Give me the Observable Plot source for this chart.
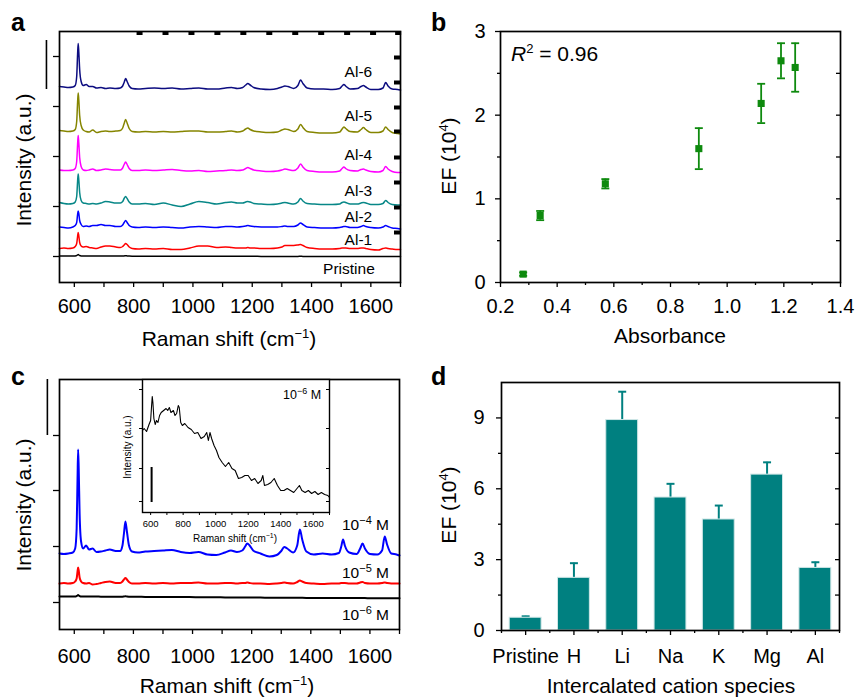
<!DOCTYPE html>
<html><head><meta charset="utf-8">
<script src="https://cdn.jsdelivr.net/npm/d3@7"></script>
<script src="https://cdn.jsdelivr.net/npm/@observablehq/plot@0.6"></script>
<style>
html,body{margin:0;padding:0;background:#fff;}
#fig{position:relative;width:857px;height:697px;overflow:hidden;font-family:"Liberation Sans",Arial,sans-serif;}
</style></head><body><div id="fig"></div>
<script>
// ---------- DATA ----------
// Panel a: Raman shift grid (cm-1) shared by spectra of panels a and c
const shiftGrid = [550,565,580,595,603,608,611,613,615,618,623,630,640,650,662,675,690,705,720,740,755,763,768,773,778,785,795,815,840,870,900,930,960,990,1020,1050,1080,1110,1130,1150,1168,1178,1185,1193,1205,1230,1260,1285,1300,1310,1320,1340,1354,1363,1371,1385,1410,1440,1470,1495,1503,1509,1515,1530,1555,1567,1575,1583,1600,1625,1641,1650,1658,1672,1690,1700];
const seriesA = ["Al-6","Al-5","Al-4","Al-3","Al-2","Al-1","Pristine"];
const colorsA = ["#0c0c80","#858500","#ff00ff","#078787","#0000ff","#ff0000","#000000"];
const offsetsA = [193,150,111,78,55,34,26];
const al6 = [3,2.5,2,2.5,4,13,35,46,38,20, 8,4,5,3,3,1.5,2,1,1.5,1, 1.5,3.5,7,11,8,3.5,1,0.5,1,1.5, 1,1.5,0.5,1,1.5,0.5,0.5,1.5,2,1, 2,4.5,6,4.5,2,0.5,0,1,2.5,3.5, 3,1,4,9.5,6,1.5,0.5,0.5,0,1, 3.5,5,3.5,0.5,1,3,4,2.5,0,0, 1.5,7,3.5,0.5,0,-0.5];
const al5 = [2,1.5,1,1.5,3,11,30,39.5,33,17, 7,2.5,1,0.5,2.5,0,1,1.5,1,1.5, 2,4.5,9,13,9.5,4,1,0.5,1,0.5, 1,0.5,1,1.5,1.5,0.5,0.5,1,1.5,0.5, 1.5,3.5,4.5,3,1.5,0.5,0,0.5,2.5,3.5, 3,1,3.5,8,5,1,0,-0.5,-0.5,0.5, 3.5,5.5,4,1,0.5,3,5,3,0,0, 1.5,5.5,3,0,-1,-1.5];
const al4 = [1.5,1,1,1.5,3,10,27,36,29,14, 5,1.5,1,1.5,2.5,1,1.5,2.5,2,1.5, 1.5,3.5,7,9.5,7,3,1,1,1.5,1, 1.5,2,1,0.5,1,0,0.5,1,1.5,1, 1.5,3,4,3,1.5,0.5,0,0.5,1.5,2.5, 2,1,3.5,7.5,4.5,1,0,-0.5,-0.5,0.5, 3,4.5,3,1,0.5,2,2.5,1.5,0,-0.5, 1,5,2.5,0,-1,-1];
const al3 = [2,1,0.5,1,2.5,8,23,30.5,25,12, 4,1.5,1,0.5,1,0.5,1.5,3,2.5,1.5, 1.5,3,6,8,6,2.5,0.5,0.5,1,0, 1.5,-0.5,-2,0.5,3,2,0.5,2,2.5,1.5, 1.5,2.5,3,2.5,1,0.5,0,0.5,1.5,2, 1.5,0.5,2.5,6,3.5,1,0.5,0,0,0.5, 2,2.5,2,0.5,0.5,1.5,2,1.5,0,0, 1,4,2,0,-0.5,-0.5];
const al2 = [0.5,0,-0.5,0.5,2,5,13,16.5,14,7, 3,1,1.5,1,2,2,3,2,2,1, 1,2.5,5,7,5,2,0.5,0,0.5,0, 0.5,0,-0.5,0.5,1,0.5,0,1,1,0.5, 1,1.5,2,1.5,1,0.5,0.5,0.5,1,1.5, 1,1,2.5,4.5,3,0.5,0,-0.5,-0.5,0, 0.5,1,1,0,0,1,2,1,0,-0.5, 0.5,2,1,-0.5,-1,-1.5];
const al1 = [0,0.5,0,0.5,2,5,12,16,13,6, 2.5,1.5,2,1,0.5,0,1.5,2.5,2.5,1.5, 1,2,3.5,5,4,1.5,0,-0.5,0,-0.5, 0,-1,-1,0.5,2.5,2.5,1,1.5,1,0.5, 0.5,0.5,1,0.5,0.5,0,0,0.5,1.5,3, 3,3,3.5,4,3,1,0,-0.5,-0.5,0, 0.5,0.5,0.5,0,0,0.5,0.5,0,-1,-1.5, 0,0.5,0,-0.5,-1,-1];
const pristineA = [0.5,0.5,0.5,0.5,0.6,1,1.5,2,1.5,1, 0.6,0.5,0.5,0.5,0.4,0.4,0.4,0.4,0.4,0.4, 0.4,0.5,0.6,0.8,0.6,0.4,0.3,0.3,0.3,0.3, 0.3,0.3,0.2,0.2,0.2,0.2,0.2,0.2,0.2,0.2, 0.2,0.2,0.2,0.2,0.2,0.1,0.1,0.1,0.1,0.1, 0.1,0.1,0.1,0.2,0.1,0.1,0,0,0,0, 0,0,0,0,0,0,0,0,0,0, 0,0,0,0,0,0];
const relA = [al6, al5, al4, al3, al2, al1, pristineA];
const labelsA = [
  {text:"Al-6", x:1558, y:210}, {text:"Al-5", x:1558, y:166}, {text:"Al-4", x:1558, y:127},
  {text:"Al-3", x:1558, y:91}, {text:"Al-2", x:1558, y:65}, {text:"Al-1", x:1558, y:42},
  {text:"Pristine", x:1526, y:13}];
const ramanLabelTicks = [600,800,1000,1200,1400,1600];
const ramanMinorTicks = [700,900,1100,1300,1500,1700];
const yTicksA = [26,76,126,176,226];
const topMarksA = [820,907.5,995,1082.5,1170,1257.5,1345,1432.5,1520,1607.5,1692];
const rightMarksA = [50,75,100,125,151,175,200,225];
const scaleBarA = [{x:506, y1:193, y2:242}];

// Panel b: EF vs absorbance
const absorbance = [0.28,0.34,0.57,0.90,1.12,1.19,1.24];
const efB = [0.10,0.80,1.18,1.60,2.14,2.65,2.57];
const errB = [0.02,0.055,0.056,0.245,0.235,0.21,0.29];
const absTicks = [0.2,0.4,0.6,0.8,1.0,1.2,1.4];
const absMinor = [0.3,0.5,0.7,0.9,1.1,1.3];
const efTicksB = [0,1,2,3];
const efMinorB = [0.5,1.5,2.5];

// Panel c: concentration series
const seriesC = ["1e-4","1e-5","1e-6"];
const colorsC = ["#0000ff","#ff0000","#000000"];
const offsetsC = [76,46,31];
const c4 = [0,-0.5,0,1,5,25,75,104,85,40, 12,5,8,4,5,1.5,2,3,4,2.5, 2.5,8,20,32,22,8,2,1,2,2.5, 3,3.5,1.5,0.5,1.5,-1,-1.5,1,3,1.5, 3,7,10,8,3,0,-3,-1.5,2.5,6.5, 5,1,8,24,14,2,-1,0,-1,0.5, 7,14,8,1,-0.5,5,10,5,-0.5,-1, 3,17,9,0,-1,-2];
const c5 = [0,0.5,0,0.5,2,5,12,16,13,6, 2,0.5,0,0.5,-1,-0.5,0.5,1.5,2,0.5, 0.5,2,4,5.5,4,1.5,0,0,0.5,0, 0.5,0,0.5,0.5,1,0,0,0.5,0.5,0, 0.5,0.5,1,0.5,0,0,-0.5,0,0.5,1, 0.5,0,1.5,3,2,0.5,0,-0.5,0,0, 0.5,0.5,0.5,0,0,1,1.5,0.5,0,0, 0.5,1,0.5,0,0,0];
const c6 = [2,2,2,2,2,2.5,3,3.5,3,2.5, 2,2,2,2,2,2,1.8,1.8,1.8,1.8, 1.8,1.8,2,2.3,2,1.8,1.7,1.7,1.6,1.6, 1.5,1.5,1.4,1.4,1.3,1.2,1.2,1.1,1.1,1, 1,1,1,1,0.9,0.9,0.8,0.8,0.8,0.8, 0.7,0.7,0.7,0.8,0.7,0.6,0.6,0.5,0.5,0.5, 0.5,0.5,0.5,0.4,0.4,0.4,0.4,0.4,0.3,0.3, 0.3,0.3,0.3,0.2,0.2,0.2];
const relC = [c4, c5, c6];
const yTicksC = [27,83,139,194];
const scaleBarC = [{x:509, y1:194, y2:250}];

// Inset of panel c (10^-6 M)
const insetShift = [550,560,575,590,600,606,610,614,620,628,636,645,655,665,680,695,705,715,725,740,750,760,770,776,785,795,810,830,850,870,890,910,930,945,955,965,975,990,1005,1020,1040,1060,1080,1100,1120,1140,1160,1180,1200,1220,1240,1260,1280,1290,1300,1320,1340,1360,1380,1400,1420,1440,1460,1480,1500,1515,1530,1550,1570,1590,1610,1630,1650,1670,1690,1700];
const insetIntensity = [82,84,81,88,92,107,116,110,94,88, 92,90,97,100,102,104,102,105,100,102, 97,99,107,105,90,87,89,85,83,79, 80,74,76,80,72,80,74,67,62,55, 50,46,50,44,42,34,35,37,37,32, 34,29,32,37,27,28,30,34,27,22, 22,24,22,20,24,27,22,20,22,19, 21,18,20,18,17,15];
const insetYTicks = [11,44,84,123];
const insetScaleBar = [{x:606, y1:10, y2:45}];

// Panel d: EF by intercalated cation
const cations = ["Pristine","H","Li","Na","K","Mg","Al"];
const efD = [0.54,2.23,8.91,5.63,4.70,6.60,2.65];
const errD = [0.06,0.62,1.20,0.58,0.59,0.52,0.24];
const efTicksD = [0,3,6,9];
const efMinorD = [1.5,4.5,7.5];
const efRightD = [1.5,3,4.5,6,7.5,9];

// ---------- STYLE ----------
const FONT = '"Liberation Sans", Arial, sans-serif';
const GREEN = "#0e8a0e";
const TEAL = "#008080";
const fig = document.getElementById("fig");
function place(el, left, top) {
  el.style.position = "absolute"; el.style.left = left + "px"; el.style.top = top + "px";
  fig.appendChild(el);
}
const baseStyle = {fontFamily: FONT, background: "transparent", overflow: "visible", color: "black"};
const blank = () => "";
const plain = d => String(d);
const cap = {draw(ctx, size) { const w = Math.sqrt(size) / 2; ctx.moveTo(-w, 0); ctx.lineTo(w, 0); }};

// ---------- PANEL A ----------
const rowsA = [];
seriesA.forEach((s, k) => shiftGrid.forEach((x, i) => rowsA.push({series: s, shift: x, intensity: offsetsA[k] + relA[k][i]})));
const FWA = 341, FHA = 251;
const plotA = Plot.plot({
  width: 430, height: 345, marginLeft: 59, marginRight: 30, marginTop: 31, marginBottom: 63,
  style: baseStyle,
  x: {domain: [550, 1700]}, y: {domain: [0, 251]},
  color: {domain: seriesA, range: colorsA},
  marks: [
    Plot.line(rowsA, {x: "shift", y: "intensity", z: "series", stroke: "series", strokeWidth: 1.5, curve: "monotone-x"}),
    Plot.text(labelsA, {x: "x", y: "y", text: "text", fontSize: 15.5, fill: "black"}),
    Plot.axisX({ticks: ramanLabelTicks, tickSize: 5, tickPadding: 11, tickFormat: plain, fontSize: 20, label: null, strokeWidth: 1.3}),
    Plot.axisX({ticks: ramanMinorTicks, tickSize: 5, tickFormat: blank, label: null, strokeWidth: 1.3}),
    Plot.axisY({ticks: yTicksA, tickSize: 6, tickFormat: blank, label: null, strokeWidth: 1.3}),
    Plot.tickX(topMarksA, {x: d => d, strokeWidth: 6, insetBottom: FHA - 4}),
    Plot.tickY(rightMarksA, {y: d => d, strokeWidth: 4, insetLeft: FWA - 6}),
    Plot.ruleX(scaleBarA, {x: "x", y1: "y1", y2: "y2", strokeWidth: 1.6}),
    Plot.frame({strokeWidth: 1.7})
  ]
});
place(plotA, 0, 0);

// ---------- PANEL B ----------
const pointsB = absorbance.map((a, i) => ({abs: a, ef: efB[i], err: errB[i]}));
const FWB = 340, FHB = 251;
const plotB = Plot.plot({
  width: 427, height: 345, marginLeft: 70, marginRight: 17, marginTop: 31, marginBottom: 63,
  style: baseStyle,
  x: {domain: [0.2, 1.4]}, y: {domain: [0, 3]},
  marks: [
    Plot.axisX({ticks: absTicks, tickSize: 5, tickPadding: 11, tickFormat: d3.format(".1f"), fontSize: 20, label: null, strokeWidth: 1.3}),
    Plot.axisX({ticks: absMinor, tickSize: 3, tickFormat: blank, label: null, strokeWidth: 1.3}),
    Plot.axisY({ticks: efTicksB, tickSize: 5, tickPadding: 10, tickFormat: plain, fontSize: 20, label: null, strokeWidth: 1.3}),
    Plot.axisY({ticks: efMinorB, tickSize: 3, tickFormat: blank, label: null, strokeWidth: 1.3}),
    Plot.tickY([...efMinorB, 1, 2], {y: d => d, insetLeft: FWB - 4, strokeWidth: 1.3}),
    Plot.ruleX(pointsB, {x: "abs", y1: d => d.ef - d.err, y2: d => d.ef + d.err, stroke: GREEN, strokeWidth: 1.8}),
    Plot.dot(pointsB, {x: "abs", y: d => d.ef + d.err, symbol: cap, r: 4.5, stroke: GREEN, fill: "none", strokeWidth: 1.8}),
    Plot.dot(pointsB, {x: "abs", y: d => d.ef - d.err, symbol: cap, r: 4.5, stroke: GREEN, fill: "none", strokeWidth: 1.8}),
    Plot.dot(pointsB, {x: "abs", y: "ef", symbol: "square", r: 4, fill: GREEN, stroke: "none"}),
    Plot.frame({strokeWidth: 1.7})
  ]
});
place(plotB, 430, 0);

// ---------- PANEL C ----------
const rowsC = [];
seriesC.forEach((s, k) => shiftGrid.forEach((x, i) => rowsC.push({series: s, shift: x, intensity: offsetsC[k] + relC[k][i]})));
const plotC = Plot.plot({
  width: 430, height: 352, marginLeft: 59, marginRight: 31, marginTop: 34, marginBottom: 68,
  style: baseStyle,
  x: {domain: [550, 1700]}, y: {domain: [0, 250]},
  color: {domain: seriesC, range: colorsC},
  marks: [
    Plot.line(rowsC, {x: "shift", y: "intensity", z: "series", stroke: "series", strokeWidth: 2, curve: "monotone-x"}),
    Plot.axisX({ticks: ramanLabelTicks, tickSize: 5, tickPadding: 14, tickFormat: plain, fontSize: 20, label: null, strokeWidth: 1.3}),
    Plot.axisX({ticks: ramanMinorTicks, tickSize: 5, tickFormat: blank, label: null, strokeWidth: 1.3}),
    Plot.axisY({ticks: yTicksC, tickSize: 6, tickFormat: blank, label: null, strokeWidth: 1.3}),
    Plot.ruleX(scaleBarC, {x: "x", y1: "y1", y2: "y2", strokeWidth: 1.6}),
    Plot.frame({strokeWidth: 1.7})
  ]
});
place(plotC, 0, 345);

// ---------- INSET ----------
const insetRows = insetShift.map((x, i) => ({shift: x, intensity: insetIntensity[i]}));
const FWI = 187;
const plotI = Plot.plot({
  width: 240, height: 185, marginLeft: 42, marginRight: 11, marginTop: 9, marginBottom: 43,
  style: baseStyle,
  x: {domain: [550, 1700]}, y: {domain: [0, 133]},
  marks: [
    Plot.frame({fill: "white", stroke: null}),
    Plot.line(insetRows, {x: "shift", y: "intensity", stroke: "black", strokeWidth: 1.1}),
    Plot.axisX({ticks: ramanLabelTicks, tickSize: 3, tickPadding: 5, tickFormat: plain, fontSize: 9.5, label: null}),
    Plot.axisX({ticks: ramanMinorTicks, tickSize: 3, tickFormat: blank, label: null}),
    Plot.axisY({ticks: insetYTicks, tickSize: 3, tickFormat: blank, label: null}),
    Plot.tickY(insetYTicks, {y: d => d, insetLeft: FWI - 3}),
    Plot.ruleX(insetScaleBar, {x: "x", y1: "y1", y2: "y2", strokeWidth: 2}),
    Plot.frame({strokeWidth: 1.4})
  ]
});
place(plotI, 100, 370);

// ---------- PANEL D ----------
const barsD = cations.map((c, i) => ({cat: c, i, ef: efD[i], err: errD[i]}));
const BAR_HALF = 0.33;
const FWD = 338;
const plotD = Plot.plot({
  width: 427, height: 352, marginLeft: 71, marginRight: 18, marginTop: 37, marginBottom: 67,
  style: baseStyle,
  x: {domain: [-0.5, 6.5]}, y: {domain: [0, 10.5]},
  marks: [
    Plot.ruleX(barsD, {x: "i", y1: "ef", y2: d => d.ef + d.err, stroke: TEAL, strokeWidth: 2}),
    Plot.dot(barsD, {x: "i", y: d => d.ef + d.err, symbol: cap, r: 4.5, stroke: TEAL, fill: "none", strokeWidth: 2}),
    Plot.rectY(barsD, {x1: d => d.i - BAR_HALF, x2: d => d.i + BAR_HALF, y: "ef", fill: TEAL, stroke: "#cfe6e6", strokeWidth: 1}),
    Plot.axisX({ticks: d3.range(cations.length), tickFormat: i => cations[i], tickSize: 5, tickPadding: 13, fontSize: 20, label: null, strokeWidth: 1.3}),
    Plot.axisX({ticks: d3.range(cations.length + 1).map(i => i - 0.5), tickSize: 3, tickFormat: blank, label: null, strokeWidth: 1.3}),
    Plot.axisY({ticks: efTicksD, tickSize: 5, tickPadding: 12, tickFormat: plain, fontSize: 20, label: null, strokeWidth: 1.3}),
    Plot.axisY({ticks: efMinorD, tickSize: 3, tickFormat: blank, label: null, strokeWidth: 1.3}),
    Plot.tickY(efRightD, {y: d => d, insetLeft: FWD - 4, strokeWidth: 1.3}),
    Plot.frame({strokeWidth: 1.7})
  ]
});
place(plotD, 430, 345);

// ---------- TEXT OVERLAY ----------
const sup = (t, dy = 8, fs = 13) => `<tspan dy="-${dy}" font-size="${fs}">${t}</tspan><tspan dy="${dy}">`;
const overlay = `<svg xmlns="http://www.w3.org/2000/svg" width="857" height="697" style="position:absolute;left:0;top:0;pointer-events:none" font-family='${FONT}' font-size="21" fill="black">
<text x="11" y="31" font-weight="bold" font-size="25">a</text>
<text x="431" y="31" font-weight="bold" font-size="25">b</text>
<text x="11" y="385" font-weight="bold" font-size="25">c</text>
<text x="431" y="385" font-weight="bold" font-size="25">d</text>
<text x="229" y="346" text-anchor="middle">Raman shift (cm${sup("−1")})</tspan></text>
<text x="227" y="693" text-anchor="middle">Raman shift (cm${sup("−1")})</tspan></text>
<text x="670" y="342.5" text-anchor="middle">Absorbance</text>
<text x="671" y="693" text-anchor="middle">Intercalated cation species</text>
<text transform="translate(31,160) rotate(-90)" text-anchor="middle">Intensity (a.u.)</text>
<text transform="translate(31,505) rotate(-90)" text-anchor="middle">Intensity (a.u.)</text>
<text transform="translate(456,156) rotate(-90)" text-anchor="middle">EF (10${sup("4")})</tspan></text>
<text transform="translate(456,505) rotate(-90)" text-anchor="middle">EF (10${sup("4")})</tspan></text>
<text x="511" y="61"><tspan font-style="italic">R</tspan>${sup("2")} = 0.96</tspan></text>
<text x="342" y="530" font-size="15.5">10${sup("−4", 6, 11)} M</tspan></text>
<text x="342" y="578" font-size="15.5">10${sup("−5", 6, 11)} M</tspan></text>
<text x="342" y="620" font-size="15.5">10${sup("−6", 6, 11)} M</tspan></text>
<text x="283" y="399" font-size="12.5">10${sup("−6", 5, 9)} M</tspan></text>
<text x="235" y="541.5" font-size="10" text-anchor="middle">Raman shift (cm${sup("−1", 4, 7)})</tspan></text>
<text transform="translate(131,447) rotate(-90)" font-size="10" text-anchor="middle">Intensity (a.u.)</text>
</svg>`;
fig.insertAdjacentHTML("beforeend", overlay);
</script></body></html>
